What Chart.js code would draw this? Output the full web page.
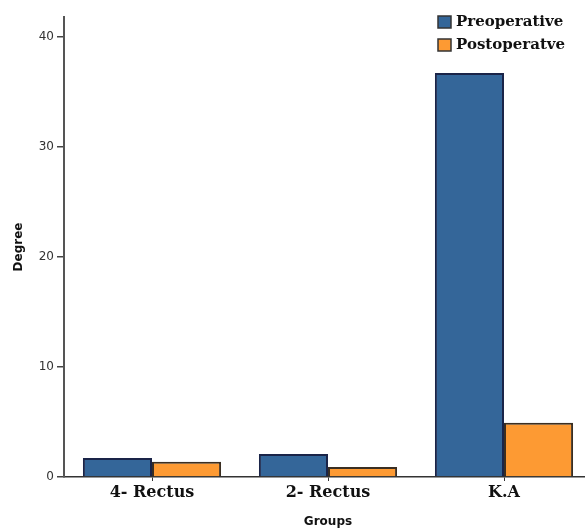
<!DOCTYPE html>
<html>
<head>
<meta charset="utf-8">
<script src="https://cdn.jsdelivr.net/npm/chart.js@4/dist/chart.umd.min.js"></script>
<style>
  html, body { margin: 0; padding: 0; background: #fff; overflow: hidden; }
  #wrap { width: 592px; height: 528px; }
</style>
</head>
<body>
<div id="wrap"><canvas id="chart"></canvas></div>
<script>
const GROUPS = ['4- Rectus', '2- Rectus', 'K.A'];
const PREOP = [1.73, 2.09, 36.7];
const POSTOP = [1.39, 0.91, 4.94];
const SERIES_NAMES = ['Preoperative', 'Postoperatve'];

// legend drawn inside the plot, top right, like the original
const cornerLegend = {
  id: 'cornerLegend',
  afterDraw(chart) {
    const ctx = chart.ctx;
    ctx.save();
    chart.data.datasets.forEach((ds, i) => {
      const y = 16 + i * 23;
      ctx.fillStyle = ds.backgroundColor;
      ctx.fillRect(438, y, 13, 12);
      ctx.strokeStyle = '#333';
      ctx.lineWidth = 1.5;
      ctx.strokeRect(438, y, 13, 12);
      ctx.fillStyle = '#111';
      ctx.font = 'bold 15px "DejaVu Serif"';
      ctx.textBaseline = 'middle';
      ctx.fillText(ds.label, 456, y + 6);
    });
    ctx.restore();
  }
};

new Chart(document.getElementById('chart').getContext('2d'), {
  type: 'bar',
  data: {
    labels: GROUPS,
    datasets: [
      { label: SERIES_NAMES[0], data: PREOP, backgroundColor: '#346699', borderColor: '#1a2448', borderWidth: 2 },
      { label: SERIES_NAMES[1], data: POSTOP, backgroundColor: '#fd9a33', borderColor: '#3a2e22', borderWidth: 2 }
    ]
  },
  plugins: [cornerLegend],
  options: {
    responsive: true,
    maintainAspectRatio: false,
    animation: false,
    layout: { padding: { top: 17, right: 0, left: 0, bottom: 0 } },
    datasets: { bar: { categoryPercentage: 0.785, barPercentage: 1 } },
    scales: {
      x: {
        afterFit: (s) => { s.height = 51; },
        border: { color: '#333', width: 1.5 },
        grid: { drawOnChartArea: false, offset: false, tickLength: 4, color: '#333' },
        ticks: { font: { family: 'DejaVu Serif', size: 16, weight: 'bold' }, color: '#111', padding: 2 },
        title: { display: true, text: 'Groups', font: { family: 'DejaVu Sans', size: 12, weight: 'bold', lineHeight: 1 }, color: '#111', padding: { top: 0, bottom: 0 } }
      },
      y: {
        min: 0,
        max: 41.8,
        afterFit: (s) => { s.width = 64; },
        border: { color: '#555', width: 2 },
        grid: { drawOnChartArea: false, tickLength: 7, color: '#444', lineWidth: 1.5 },
        ticks: { stepSize: 10, includeBounds: false, font: { family: 'DejaVu Sans', size: 12 }, color: '#333', padding: 3 },
        title: { display: true, text: 'Degree', font: { family: 'DejaVu Sans', size: 12, weight: 'bold' }, color: '#111', padding: { top: 12, bottom: 0 } }
      }
    },
    plugins: {
      legend: { display: false },
      tooltip: { enabled: false }
    }
  }
});
</script>
</body>
</html>
